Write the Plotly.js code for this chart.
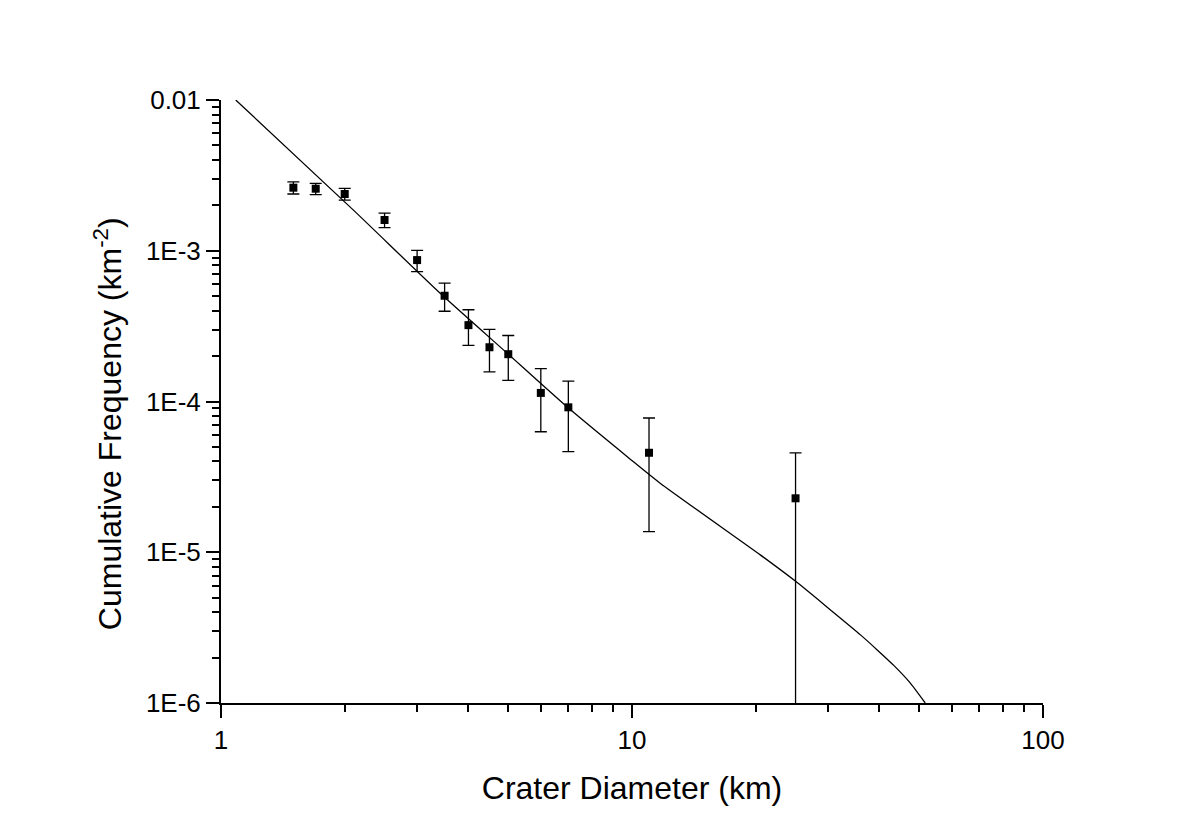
<!DOCTYPE html>
<html>
<head>
<meta charset="utf-8">
<script src="https://cdn.plot.ly/plotly-3.0.1.min.js"></script>
<style>
  html, body { margin: 0; padding: 0; background: #ffffff; }
  #chart { width: 1203px; height: 838px; }
</style>
</head>
<body>
<div id="chart"></div>
<script>
// Observed crater counts
const craterDiameter = [1.5, 1.7, 2.0, 2.5, 3.0, 3.5, 4.0, 4.5, 5.0, 6.0, 7.0, 11.0, 25.0];
const cumulativeFreq = [2.62e-3, 2.58e-3, 2.38e-3, 1.60e-3, 8.67e-4, 5.03e-4, 3.21e-4, 2.29e-4, 2.06e-4, 1.14e-4, 9.15e-5, 4.57e-5, 2.28e-5];
const freqError     = [2.4e-4, 2.2e-4, 2.1e-4, 1.75e-4, 1.39e-4, 1.06e-4, 8.5e-5, 7.2e-5, 6.8e-5, 5.1e-5, 4.5e-5, 3.2e-5, 2.28e-5];

// Fitted isochron curve
const fitDiameter = [1.086, 2.10, 3.42, 5.0, 6.95, 9.92, 11.73, 20.56, 24.93, 30.45, 36.03, 39.5, 43.4, 47.4, 51.7];
const fitFreq     = [1.0e-2, 1.86e-3, 5.2e-4, 2.06e-4, 9.22e-5, 4.13e-5, 2.86e-5, 9.57e-6, 6.46e-6, 4.13e-6, 2.82e-6, 2.25e-6, 1.77e-6, 1.37e-6, 1.0e-6];

// Tick labels
const xTickVals = [1, 10, 100];
const xTickText = ['1', '10', '100'];
const yTickVals = [1e-6, 1e-5, 1e-4, 1e-3, 1e-2];
const yTickText = ['1E-6', '1E-5', '1E-4', '1E-3', '0.01'];

const xTitle = 'Crater Diameter (km)';
const yTitle = 'Cumulative Frequency (km<sup>-2</sup>)';

const FONT = 'Liberation Sans, Arial, sans-serif';

const traces = [
  {
    x: fitDiameter, y: fitFreq,
    type: 'scatter', mode: 'lines',
    line: { color: '#000000', width: 1.3, shape: 'spline', smoothing: 0.6 },
    hoverinfo: 'skip', showlegend: false
  },
  {
    x: craterDiameter, y: cumulativeFreq,
    type: 'scatter', mode: 'markers',
    marker: { symbol: 'square', size: 8, color: '#000000' },
    error_y: { type: 'data', array: freqError, visible: true,
               color: '#000000', thickness: 1.3, width: 6 },
    showlegend: false
  }
];

const axisCommon = {
  type: 'log',
  showline: true, linecolor: '#000000', linewidth: 2,
  mirror: false, showgrid: false, zeroline: false,
  ticks: 'outside', ticklen: 13, tickwidth: 2, tickcolor: '#000000',
  tickfont: { family: FONT, size: 26, color: '#000000' },
  tickmode: 'array',
  minor: { ticks: 'outside', ticklen: 7, tickwidth: 2, tickcolor: '#000000', dtick: 'D1', showgrid: false }
};

const layout = {
  width: 1203, height: 838,
  paper_bgcolor: '#ffffff', plot_bgcolor: '#ffffff',
  margin: { l: 221, r: 160, t: 100, b: 135 },
  showlegend: false,
  xaxis: Object.assign({}, axisCommon, {
    range: [0, 2],
    tickvals: xTickVals, ticktext: xTickText,
    title: { text: xTitle, font: { family: FONT, size: 32, color: '#000000' }, standoff: 22 }
  }),
  yaxis: Object.assign({}, axisCommon, {
    range: [-6, -2],
    tickvals: yTickVals, ticktext: yTickText
  }),
  annotations: [{
    text: yTitle,
    textangle: -90,
    xref: 'paper', yref: 'paper',
    x: -0.1375, y: 0.464,
    xanchor: 'center', yanchor: 'middle',
    showarrow: false,
    font: { family: FONT, size: 32, color: '#000000' }
  }]
};

Plotly.newPlot('chart', traces, layout, { displayModeBar: false, staticPlot: true });
</script>
</body>
</html>
